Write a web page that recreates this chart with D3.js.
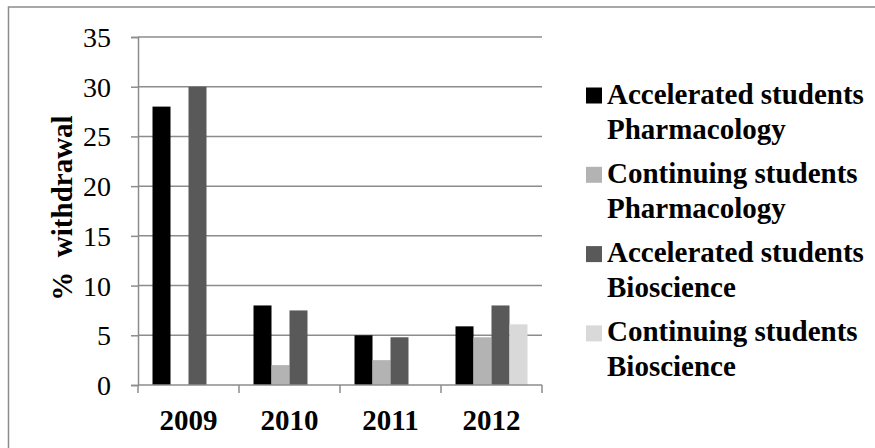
<!DOCTYPE html>
<html><head><meta charset="utf-8">
<script src="https://cdn.jsdelivr.net/npm/d3@7"></script>
<style>body{margin:0;background:#fff}svg{display:block}</style>
</head><body>
<script>
const years = ["2009","2010","2011","2012"];
const seriesNames = [
  ["Accelerated students","Pharmacology"],
  ["Continuing students","Pharmacology"],
  ["Accelerated students","Bioscience"],
  ["Continuing students","Bioscience"]
];
const accPharm = [28, 8, 5, 5.9];
const contPharm = [null, 2, 2.5, 4.8];
const accBio = [30, 7.5, 4.8, 8];
const contBio = [null, null, null, 6.1];
const colors = ["#000000","#b3b3b3","#595959","#d9d9d9"];
const yTicks = [0,5,10,15,20,25,30,35];

const series = [accPharm, contPharm, accBio, contBio];
const W = 875, H = 448;
const svg = d3.select("body").append("svg").attr("width", W).attr("height", H);
const serif = "'Liberation Serif','Times New Roman',serif";
const grid = "#8c8c8c";

svg.append("rect").attr("x",8.5).attr("y",7).attr("width",900).attr("height",500)
  .attr("fill","none").attr("stroke",grid).attr("stroke-width",1.5);

const x0 = d3.scaleBand().domain(years).range([138, 542]).padding(0);
const x1 = d3.scaleBand().domain(d3.range(4)).range([0, x0.bandwidth()]).paddingInner(0).paddingOuter(0.806);
const y = d3.scaleLinear().domain([0,35]).range([385, 37]);

// gridlines
svg.append("g").selectAll("line").data(yTicks.filter(t=>t>0)).join("line")
  .attr("x1",138).attr("x2",542).attr("y1",d=>y(d)).attr("y2",d=>y(d))
  .attr("stroke",grid).attr("stroke-width",1.5);

// y axis
const ya = svg.append("g").attr("transform","translate(138,0)")
  .call(d3.axisLeft(y).tickValues(yTicks).tickSize(7).tickPadding(20));
ya.select(".domain").attr("stroke",grid).attr("stroke-width",1.5);
ya.selectAll(".tick line").attr("stroke",grid).attr("stroke-width",1.5);
ya.selectAll("text").attr("font-family",serif).attr("font-size",28).attr("fill","#000").attr("dy","0.34em");

// bars
const g = svg.append("g");
series.forEach((vals,si)=>{
  g.append("g").selectAll("rect").data(years.map((yr,i)=>({yr,v:vals[i]})).filter(d=>d.v!=null)).join("rect")
    .attr("x",d=>x0(d.yr)+x1(si)).attr("width",x1.bandwidth())
    .attr("y",d=>y(d.v)).attr("height",d=>y(0)-y(d.v)).attr("fill",colors[si]);
});

// x axis
const xa = svg.append("g").attr("transform","translate(0,385)")
  .call(d3.axisBottom(x0).tickSize(0).tickPadding(0));
xa.select(".domain").remove();
xa.append("line").attr("x1",138).attr("x2",542).attr("stroke",grid).attr("stroke-width",1.5);
xa.selectAll(".bt").data(d3.range(5)).join("line")
  .attr("x1",d=>138+d*x0.bandwidth()).attr("x2",d=>138+d*x0.bandwidth())
  .attr("y1",0).attr("y2",8).attr("stroke",grid).attr("stroke-width",1.5);
xa.selectAll(".tick text").attr("font-family",serif).attr("font-size",29).attr("font-weight","bold")
  .attr("fill","#000").attr("y",45).attr("dy",0);

// y title
svg.append("text").attr("transform","translate(72,208) rotate(-90)")
  .attr("text-anchor","middle").attr("font-family",serif).attr("font-size",29).attr("font-weight","bold")
  .attr("xml:space","preserve").style("white-space","pre").text("%  withdrawal");

// legend
const leg = svg.append("g");
seriesNames.forEach((nm,i)=>{
  const base = 103.5 + i*79.3;
  leg.append("rect").attr("x",586).attr("y",base-16).attr("width",16).attr("height",16).attr("fill",colors[i]);
  nm.forEach((line,j)=>{
    leg.append("text").attr("x",607).attr("y",base + j*35)
      .attr("font-family",serif).attr("font-size",29).attr("font-weight","bold").text(line);
  });
});
</script>
</body></html>
